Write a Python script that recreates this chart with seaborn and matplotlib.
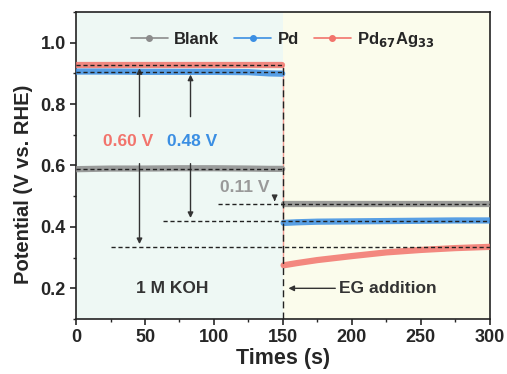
import matplotlib
matplotlib.use("Agg")
import matplotlib.pyplot as plt
from matplotlib.lines import Line2D
from matplotlib.ticker import MultipleLocator
import seaborn as sns
import pandas as pd

# ---- data ----
times = [0, 25, 50, 75, 100, 125, 140, 149.5, 150.5, 160, 175, 200, 225, 250, 275, 300]
blank = [0.588, 0.590, 0.590, 0.591, 0.591, 0.590, 0.589, 0.589, 0.475, 0.475, 0.475, 0.475, 0.475, 0.475, 0.475, 0.475]
pd_vals = [0.906, 0.906, 0.905, 0.905, 0.905, 0.904, 0.900, 0.899, 0.413, 0.415, 0.417, 0.418, 0.419, 0.420, 0.421, 0.421]
pdag = [0.926, 0.926, 0.926, 0.926, 0.926, 0.926, 0.926, 0.926, 0.275, 0.282, 0.292, 0.305, 0.317, 0.325, 0.331, 0.335]
series_names = ["Blank", "Pd", "Pd67Ag33"]
legend_labels = ["Blank", "Pd", r"Pd$_{\mathbf{67}}$Ag$_{\mathbf{33}}$"]
colors = ["#8c8c8c", "#3b8fe3", "#f2746c"]
ref_levels = [0.926, 0.905, 0.59, 0.475, 0.42, 0.335]
diff_labels = ["0.60 V", "0.48 V", "0.11 V"]

rows = []
for name, vals in zip(series_names, [blank, pd_vals, pdag]):
    for t, v in zip(times, vals):
        rows.append({"t": t, "V": v, "series": name, "stage": "KOH" if t < 150 else "EG"})
df = pd.DataFrame(rows)

sns.set_style("ticks")
plt.rcParams["font.family"] = ["Liberation Sans", "DejaVu Sans"]
plt.rcParams["font.weight"] = "bold"
plt.rcParams["mathtext.default"] = "bf"

fig, ax = plt.subplots(figsize=(5.07, 3.74), dpi=100)
fig.subplots_adjust(left=0.15, right=0.966, top=0.968, bottom=0.147)

ax.axvspan(0, 150, color="#eef8f4", zorder=0, lw=0)
ax.axvspan(150, 300, color="#fbfcec", zorder=0, lw=0)

pal = dict(zip(series_names, colors))
for stage in ["KOH", "EG"]:
    sns.lineplot(data=df[df["stage"] == stage], x="t", y="V", hue="series", palette=pal,
                 lw=4.5, alpha=0.85, legend=False, ax=ax, sort=False, zorder=3)

# thin connecting line of the red trace at the switch
ax.plot([150, 150], [pdag[8], pdag[7]], color=colors[2], lw=1, alpha=0.7, zorder=2)

# dashed reference lines
dk = "#222222"
ax.plot([0, 150], [ref_levels[0]] * 2, ls=(0, (3, 2)), color=dk, lw=1, zorder=4)
ax.plot([0, 150], [ref_levels[1]] * 2, ls=(0, (3, 2)), color=dk, lw=1, zorder=4)
ax.plot([0, 150], [ref_levels[2]] * 2, ls=(0, (3, 2)), color=dk, lw=1, zorder=4)
ax.plot([103, 300], [ref_levels[3]] * 2, ls=(0, (3, 2)), color=dk, lw=1, zorder=4)
ax.plot([63, 300], [ref_levels[4]] * 2, ls=(0, (3, 2)), color=dk, lw=1, zorder=4)
ax.plot([25, 300], [ref_levels[5]] * 2, ls=(0, (3, 2)), color=dk, lw=1, zorder=4)
ax.plot([150, 150], [0.1, ref_levels[0]], ls=(0, (5, 3)), color=dk, lw=1, zorder=4)

# arrows
ap = dict(arrowstyle="-|>", color="#333333", lw=1, mutation_scale=8)
ax.annotate("", xy=(46, ref_levels[0]), xytext=(46, 0.75), arrowprops=ap)
ax.annotate("", xy=(46, ref_levels[5]), xytext=(46, 0.615), arrowprops=ap)
ax.annotate("", xy=(83, ref_levels[1]), xytext=(83, 0.75), arrowprops=ap)
ax.annotate("", xy=(83, ref_levels[4]), xytext=(83, 0.615), arrowprops=ap)
ax.annotate("", xy=(144, ref_levels[3]), xytext=(144, 0.50), arrowprops=ap)
ax.annotate("", xy=(152, 0.2), xytext=(190, 0.2), arrowprops=ap)

fs = 12.5
ax.text(38, 0.677, diff_labels[0], color=colors[2], fontsize=fs, fontweight="bold", ha="center", va="center")
ax.text(84, 0.677, diff_labels[1], color=colors[1], fontsize=fs, fontweight="bold", ha="center", va="center")
ax.text(122, 0.527, diff_labels[2], color="#999999", fontsize=fs, fontweight="bold", ha="center", va="center")
ax.text(70, 0.2, "1 M KOH", color="#333333", fontsize=fs, fontweight="bold", ha="center", va="center")
ax.text(226, 0.2, "EG addition", color="#333333", fontsize=fs, fontweight="bold", ha="center", va="center")

ax.set_xlim(0, 300)
ax.set_ylim(0.1, 1.1)
ax.set_xticks([0, 50, 100, 150, 200, 250, 300])
ax.set_yticks([0.2, 0.4, 0.6, 0.8, 1.0])
ax.xaxis.set_minor_locator(MultipleLocator(25))
ax.yaxis.set_minor_locator(MultipleLocator(0.1))
ax.tick_params(axis="both", which="major", direction="out", length=4, width=1.2, labelsize=13)
ax.tick_params(axis="both", which="minor", direction="out", length=2.5, width=1)
for lab in ax.get_xticklabels() + ax.get_yticklabels():
    lab.set_fontweight("bold")
for s in ax.spines.values():
    s.set_linewidth(1.2)
    s.set_color("#222222")

ax.set_xlabel("Times (s)", fontsize=15.5, fontweight="bold", labelpad=1)
ax.set_ylabel("Potential (V vs. RHE)", fontsize=14.5, fontweight="bold")
ax.yaxis.set_label_coords(-0.104, 0.44)

handles = [Line2D([], [], color=c, lw=1.2, marker="o", ms=4) for c in colors]
ax.legend(handles, legend_labels, loc="upper center", bbox_to_anchor=(0.5, 0.99), ncol=3, frameon=False,
          handlelength=2.2, columnspacing=0.9, handletextpad=0.4,
          prop={"weight": "bold", "size": 12})

fig.savefig("out.png", dpi=100)
